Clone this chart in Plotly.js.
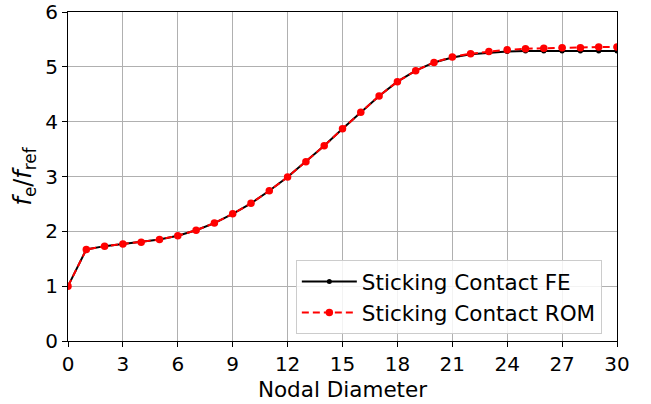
<!DOCTYPE html>
<html>
<head>
<meta charset="utf-8">
<script src="https://cdn.plot.ly/plotly-3.0.1.min.js"></script>
<style>html,body{margin:0;padding:0;background:#fff;}#chart{width:651px;height:404px;}</style>
</head>
<body>
<div id="chart"></div>
<script>
const nodalDiameter = [0,1,2,3,4,5,6,7,8,9,10,11,12,13,14,15,16,17,18,19,20,21,22,23,24,25,26,27,28,29,30];
const freqFE  = [1.00,1.67,1.73,1.77,1.80,1.85,1.92,2.02,2.15,2.32,2.51,2.74,2.99,3.27,3.56,3.87,4.17,4.47,4.73,4.93,5.08,5.17,5.23,5.26,5.28,5.29,5.29,5.29,5.29,5.29,5.29];
const freqROM = [1.00,1.67,1.73,1.77,1.80,1.85,1.92,2.02,2.15,2.32,2.51,2.74,2.99,3.27,3.56,3.87,4.17,4.47,4.73,4.93,5.08,5.18,5.24,5.28,5.31,5.33,5.34,5.35,5.35,5.36,5.36];
const xTicks = [0,3,6,9,12,15,18,21,24,27,30];
const yTicks = [0,1,2,3,4,5,6];

const tickFont = {family: 'DejaVu Sans', size: 20, color: '#000'};
const labelFont = {family: 'DejaVu Sans', size: 21.5, color: '#000'};

const traces = [
  {x: nodalDiameter, y: freqFE, name: 'Sticking Contact FE', mode: 'lines+markers',
   line: {color: '#000', width: 2}, marker: {color: '#000', size: 5}},
  {x: nodalDiameter, y: freqROM, name: 'Sticking Contact ROM', mode: 'lines+markers',
   line: {color: '#ff0000', width: 2, dash: '7px,4px'}, marker: {color: '#ff0000', size: 7.5}}
];

const layout = {
  width: 651, height: 404,
  margin: {l: 68, r: 34, t: 12, b: 63},
  paper_bgcolor: '#fff', plot_bgcolor: '#fff',
  font: tickFont,
  showlegend: true,
  xaxis: {
    range: [0, 30], tickvals: xTicks, ticktext: xTicks.map(String),
    showgrid: true, gridcolor: '#b0b0b0', gridwidth: 1,
    showline: true, linecolor: '#000', linewidth: 1, mirror: true,
    ticks: 'outside', ticklen: 5, tickcolor: '#000', zeroline: false,
    tickfont: tickFont,
    title: {text: 'Nodal Diameter', font: labelFont, standoff: 6}
  },
  yaxis: {
    range: [0, 6], tickvals: yTicks, ticktext: yTicks.map(String),
    showgrid: true, gridcolor: '#b0b0b0', gridwidth: 1,
    showline: true, linecolor: '#000', linewidth: 1, mirror: true,
    ticks: 'outside', ticklen: 5, tickcolor: '#000', zeroline: false,
    tickfont: tickFont,
    title: {text: '<i>f</i><sub>e</sub>/<i>f</i><sub>ref</sub>', font: {family: 'DejaVu Sans', size: 24, color: '#000'}, standoff: 6}
  },
  legend: {
    x: 0.415, y: 0.246, xanchor: 'left', yanchor: 'top',
    bgcolor: 'rgba(255,255,255,0.85)', bordercolor: '#cccccc', borderwidth: 1,
    font: labelFont,
    itemwidth: 55,
    tracegroupgap: 0
  }
};

Plotly.newPlot('chart', traces, layout, {displayModeBar: false, staticPlot: true});
</script>
</body>
</html>
